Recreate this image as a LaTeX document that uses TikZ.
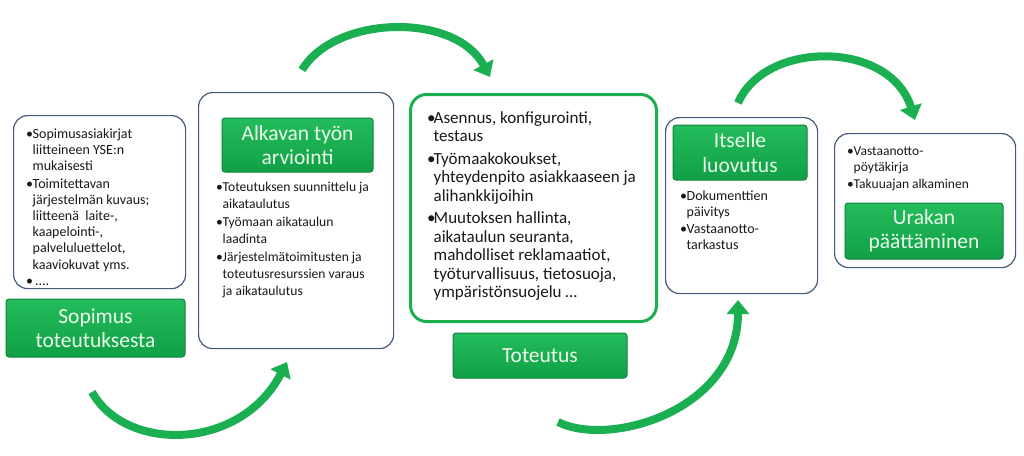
\documentclass[tikz,border=0pt]{standalone}
\usepackage{fontspec}
\setmainfont{Carlito}
\usetikzlibrary{arrows.meta}
\definecolor{boxline}{RGB}{68,90,120}
\definecolor{arrgreen}{RGB}{26,175,80}
\definecolor{labgreen}{RGB}{22,176,78}
\definecolor{labtop}{RGB}{36,188,92}
\definecolor{labbot}{RGB}{16,160,70}
\definecolor{labdark}{RGB}{14,130,58}
\definecolor{labtext}{RGB}{235,250,235}
\definecolor{txt}{RGB}{25,25,25}
\newcommand{\bulitem}{\makebox[6.5pt][l]{\textbullet}}
\newcommand{\contline}{\hspace*{6.5pt}}
\tikzset{
  infobox/.style={draw=boxline, line width=1.2pt, rounded corners=14pt, fill=white, anchor=north west, inner sep=0},
  greenbox/.style={draw=arrgreen, line width=3pt, rounded corners=16pt, fill=white, anchor=north west, inner sep=0},
  greenlab/.style={draw=labdark, line width=1pt, top color=labtop, bottom color=labbot, rounded corners=3pt, text=labtext,
    font=\fontsize{21.5}{24.5}\selectfont, align=center, inner sep=0},
  bodytext/.style={anchor=north west, inner sep=0, align=left, text=txt, font=\fontsize{14}{16.2}\selectfont},
  flowarrow/.style={draw=arrgreen, line width=8pt, -{Triangle[length=14pt,width=22pt]}},
}
\begin{document}
\begin{tikzpicture}[x=1pt,y=-1pt]
\useasboundingbox (0,0) rectangle (1024,455);

% white boxes
\node[infobox, minimum width=172pt, minimum height=173pt] (box1) at (13,115) {};
\node[infobox, minimum width=195pt, minimum height=256pt] (box2) at (198,92) {};
\node[greenbox, minimum width=246pt, minimum height=227pt] (box3) at (409,93) {};
\node[infobox, minimum width=152pt, minimum height=176pt] (box4) at (665,117) {};
\node[infobox, minimum width=181pt, minimum height=134pt] (box5) at (834,133) {};

% green labels
\node[greenlab, minimum width=179pt, minimum height=58pt] (lab1) at (95.5,328) {Sopimus\\toteutuksesta};
\node[greenlab, minimum width=151pt, minimum height=54pt] (lab2) at (297.5,145) {Alkavan työn\\arviointi};
\node[greenlab, minimum width=174pt, minimum height=45pt] (lab3) at (540,355.5) {Toteutus};
\node[greenlab, minimum width=134pt, minimum height=55pt] (lab4) at (740,152.5) {Itselle\\luovutus};
\node[greenlab, minimum width=158pt, minimum height=56pt] (lab5) at (924,231) {Urakan\\päättäminen};

% texts
\node[bodytext] (t1) at (26,128.5) {\bulitem Sopimusasiakirjat\\ \contline liitteineen YSE:n\\ \contline mukaisesti\\[1pt]
\bulitem Toimitettavan\\ \contline järjestelmän kuvaus;\\ \contline liitteenä\ \ laite-,\\ \contline kaapelointi-,\\ \contline palveluluettelot,\\ \contline kaaviokuvat yms.\\[0.5pt]
\bulitem\,....};

\node[bodytext, font=\fontsize{13.6}{17}\selectfont] (t2) at (216,182) {\bulitem Toteutuksen suunnittelu ja\\ \contline aikataulutus\\[1pt]
\bulitem Työmaan aikataulun\\ \contline laadinta\\[1pt]
\bulitem Järjestelmätoimitusten ja\\ \contline toteutusresurssien varaus\\ \contline ja aikataulutus};

\node[bodytext, font=\fontsize{17}{18.5}\selectfont] (t3) at (427,111) {\bulitem Asennus, konfigurointi,\\ \contline testaus\\[4pt]
\bulitem Työmaakokoukset,\\ \contline yhteydenpito asiakkaaseen ja\\ \contline alihankkijoihin\\[4pt]
\bulitem Muutoksen hallinta,\\ \contline aikataulun seuranta,\\ \contline mahdolliset reklamaatiot,\\ \contline työturvallisuus, tietosuoja,\\ \contline ympäristönsuojelu \dots};

\node[bodytext, font=\fontsize{14}{16}\selectfont] (t4) at (680,191) {\bulitem Dokumenttien\\ \contline päivitys\\[1pt]
\bulitem Vastaanotto-\\ \contline tarkastus};

\node[bodytext, font=\fontsize{13.5}{16}\selectfont] (t5) at (847,146.5) {\bulitem Vastaanotto-\\ \contline pöytäkirja\\[1pt]
\bulitem Takuuajan alkaminen};

% arrows
\coordinate (a1s) at (92,392);
\coordinate (a1e) at (287,362);
\coordinate (a2s) at (302,70);
\coordinate (a2e) at (490,77);
\coordinate (a3s) at (558,422);
\coordinate (a3e) at (738,300);
\coordinate (a4s) at (738,103);
\coordinate (a4e) at (915,120);
\draw[flowarrow] (a1s) .. controls (125,452) and (240,452) .. (a1e);
\draw[flowarrow] (a2s) .. controls (335,15) and (455,12) .. (a2e);
\draw[flowarrow] (a3s) .. controls (610,448) and (738,410) .. (a3e);
\draw[flowarrow] (a4s) .. controls (765,40) and (890,40) .. (a4e);
\end{tikzpicture}
\end{document}
